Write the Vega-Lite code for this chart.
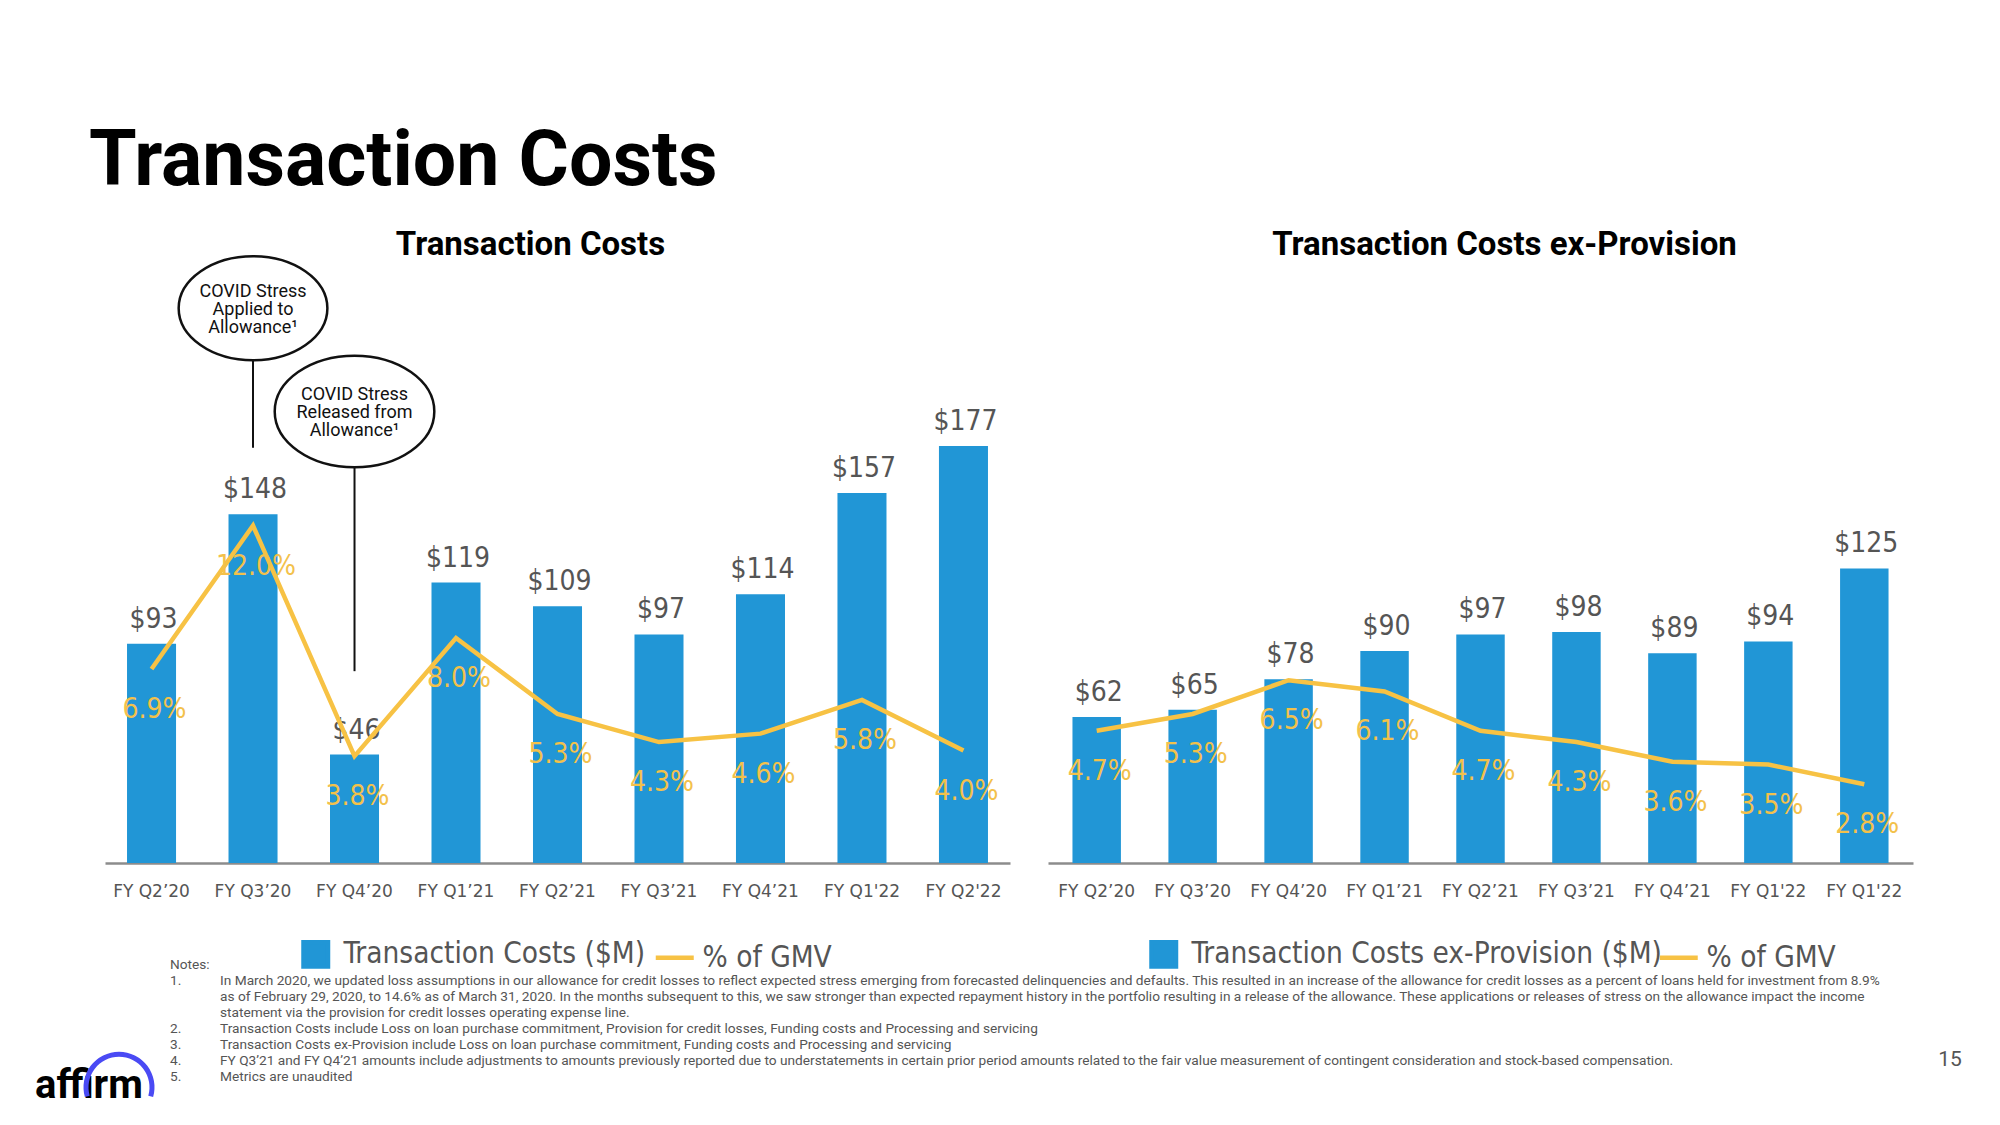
{
  "$schema": "https://vega.github.io/schema/vega-lite/v6.json",
  "background": "white",
  "padding": {"left": 35, "top": 123, "right": 20, "bottom": 10},
  "title": {"text": "Transaction Costs", "font": "Roboto", "fontSize": 77, "fontWeight": "bold", "color": "#000000", "anchor": "start", "frame": "bounds", "dx": 54, "baseline": "alphabetic", "offset": -32.8},
  "config": {"view": {"stroke": null}},
  "datasets": {
    "tc": [
      {"q": "FY Q2’20", "value": 93, "pct": 0.069},
      {"q": "FY Q3’20", "value": 148, "pct": 0.120},
      {"q": "FY Q4’20", "value": 46, "pct": 0.038},
      {"q": "FY Q1’21", "value": 119, "pct": 0.080},
      {"q": "FY Q2’21", "value": 109, "pct": 0.053},
      {"q": "FY Q3’21", "value": 97, "pct": 0.043},
      {"q": "FY Q4’21", "value": 114, "pct": 0.046},
      {"q": "FY Q1'22", "value": 157, "pct": 0.058},
      {"q": "FY Q2'22", "value": 177, "pct": 0.040}
    ],
    "tcx": [
      {"q": "FY Q2’20", "value": 62, "pct": 0.047},
      {"q": "FY Q3’20", "value": 65, "pct": 0.053},
      {"q": "FY Q4’20", "value": 78, "pct": 0.065},
      {"q": "FY Q1’21", "value": 90, "pct": 0.061},
      {"q": "FY Q2’21", "value": 97, "pct": 0.047},
      {"q": "FY Q3’21", "value": 98, "pct": 0.043},
      {"q": "FY Q4’21", "value": 89, "pct": 0.036},
      {"q": "FY Q1'22", "value": 94, "pct": 0.035},
      {"q": "FY Q1'22\u200b", "value": 125, "pct": 0.028}
    ],
    "annot": [
      {"id": "a", "q": "FY Q3’20", "y": 235.4, "label": "COVID Stress\nApplied to\nAllowance¹"},
      {"id": "b", "q": "FY Q4’20", "y": 191.6, "label": "COVID Stress\nReleased from\nAllowance¹"}
    ],
    "callout": [
      {"q": "FY Q3’20", "top": 213.5, "bottom": 176.2},
      {"q": "FY Q4’20", "top": 167.9, "bottom": 81.4}
    ],
    "notes": [
      {"row": 0, "col": 1.3, "txt": "Notes:"},
      {"row": 1, "col": 1.3, "txt": "1."},
      {"row": 1, "col": 2.3, "txt": "In March 2020, we updated loss assumptions in our allowance for credit losses to reflect expected stress emerging from forecasted delinquencies and defaults. This resulted in an increase of the allowance for credit losses as a percent of loans held for investment from 8.9%"},
      {"row": 2, "col": 2.3, "txt": "as of February 29, 2020, to 14.6% as of March 31, 2020. In the months subsequent to this, we saw stronger than expected repayment history in the portfolio resulting in a release of the allowance. These applications or releases of stress on the allowance impact the income"},
      {"row": 3, "col": 2.3, "txt": "statement via the provision for credit losses operating expense line."},
      {"row": 4, "col": 1.3, "txt": "2."},
      {"row": 4, "col": 2.3, "txt": "Transaction Costs include Loss on loan purchase commitment, Provision for credit losses, Funding costs and Processing and servicing"},
      {"row": 5, "col": 1.3, "txt": "3."},
      {"row": 5, "col": 2.3, "txt": "Transaction Costs ex-Provision include Loss on loan purchase commitment, Funding costs and Processing and servicing"},
      {"row": 6, "col": 1.3, "txt": "4."},
      {"row": 6, "col": 2.3, "txt": "FY Q3’21 and FY Q4’21 amounts include adjustments to amounts previously reported due to understatements in certain prior period amounts related to the fair value measurement of contingent consideration and stock-based compensation."},
      {"row": 7, "col": 1.3, "txt": "5."},
      {"row": 7, "col": 2.3, "txt": "Metrics are unaudited"}
    ],
    "brand": [
      {"kind": "logo", "col": -1.4, "row": 8.3, "txt": "affirm"},
      {"kind": "arc", "col": 0.28, "row": 7.64, "txt": ""},
      {"kind": "page", "col": 36.9, "row": 5.93, "txt": "15"}
    ]
  },
  "bounds": "flush",
  "spacing": 710,
  "vconcat": [
    {
      "spacing": 38,
      "resolve": {"scale": {"color": "independent"}, "legend": {"color": "independent"}},
      "hconcat": [
        {
          "width": 905,
          "height": 608,
          "title": {"text": "Transaction Costs", "font": "Roboto", "fontSize": 33, "fontWeight": "bold", "color": "#000000", "baseline": "alphabetic", "offset": -37.2, "frame": "group", "anchor": "middle", "dx": -27},
          "encoding": {
            "x": {"field": "q", "type": "nominal", "sort": null,
              "scale": {"domain": ["FY Q2’20", "FY Q3’20", "FY Q4’20", "FY Q1’21", "FY Q2’21", "FY Q3’21", "FY Q4’21", "FY Q1'22", "FY Q2'22"], "paddingInner": 0.517, "paddingOuter": 0.217},
              "axis": {"title": null, "labelAngle": 0, "ticks": false, "tickSize": 0, "labelPadding": 20, "labelFont": "DejaVu Sans", "labelFontSize": 17, "labelColor": "#555555", "domainColor": "#8c8c8c", "domainWidth": 2.5, "labelOverlap": false, "labelLimit": 1000}}
          },
          "resolve": {"scale": {"y": "independent"}},
          "layer": [
            {
              "layer": [
                {
                  "data": {"name": "tc"},
                  "mark": {"type": "bar"},
                  "encoding": {
                    "y": {"field": "value", "type": "quantitative", "scale": {"domain": [0, 258], "nice": false}, "axis": null},
                    "color": {"datum": "Transaction Costs ($M)",
                      "scale": {"domain": ["Transaction Costs ($M)", "% of GMV"], "range": ["#2196d6", "#f7c244"]},
                      "legend": {"orient": "none", "legendX": 196, "legendY": 680, "direction": "horizontal", "title": null, "symbolSize": 1444, "symbolStrokeWidth": 4.5, "labelFont": "DejaVu Sans Condensed, DejaVu Sans", "labelFontSize": 29.5, "labelColor": "#555555", "labelLimit": 1000, "labelOffset": 13, "columnPadding": 0, "padding": 0,
                        "encode": {
                          "symbols": {"update": {
                            "y": {"value": 19},
                            "shape": {"signal": "datum.value === '% of GMV' ? 'stroke' : 'square'"},
                            "size": {"signal": "datum.value === '% of GMV' ? 1444 : 600"},
                            "fill": {"signal": "datum.value === '% of GMV' ? 'transparent' : '#2196d6'"},
                            "stroke": {"signal": "datum.value === '% of GMV' ? '#f7c244' : 'transparent'"},
                            "strokeWidth": {"value": 4.5},
                            "opacity": {"value": 1}}},
                          "labels": {"update": {"y": {"value": 19}, "baseline": {"value": "middle"}}}}}}
                  }
                },
                {
                  "data": {"name": "tc"},
                  "mark": {"type": "text", "font": "DejaVu Sans Condensed, DejaVu Sans", "fontSize": 28, "color": "#555555", "align": "center", "baseline": "alphabetic", "dy": -16, "dx": 2},
                  "encoding": {
                    "y": {"field": "value", "type": "quantitative", "scale": {"domain": [0, 258], "nice": false}, "axis": null},
                    "text": {"field": "value", "format": "$.0f"}
                  }
                },
                {
                  "data": {"name": "callout"},
                  "mark": {"type": "rule", "color": "#111111", "strokeWidth": 2},
                  "encoding": {
                    "y": {"field": "top", "type": "quantitative", "scale": {"domain": [0, 258], "nice": false}, "axis": null},
                    "y2": {"field": "bottom"}
                  }
                },
                {
                  "data": {"name": "annot"},
                  "transform": [{"filter": "datum.id === 'a'"}],
                  "mark": {"type": "point", "shape": "M -1.43 0 A 1.43 1 0 1 1 1.43 0 A 1.43 1 0 1 1 -1.43 0 Z", "filled": false, "stroke": "#111111", "strokeWidth": 2.5, "size": 10816, "opacity": 1},
                  "encoding": {
                    "y": {"field": "y", "type": "quantitative", "scale": {"domain": [0, 258], "nice": false}, "axis": null}
                  }
                },
                {
                  "data": {"name": "annot"},
                  "transform": [{"filter": "datum.id === 'b'"}],
                  "mark": {"type": "point", "shape": "M -1.43 0 A 1.43 1 0 1 1 1.43 0 A 1.43 1 0 1 1 -1.43 0 Z", "filled": false, "stroke": "#111111", "strokeWidth": 2.5, "size": 12455, "opacity": 1},
                  "encoding": {
                    "y": {"field": "y", "type": "quantitative", "scale": {"domain": [0, 258], "nice": false}, "axis": null}
                  }
                },
                {
                  "data": {"name": "annot"},
                  "mark": {"type": "text", "font": "Roboto", "fontSize": 18, "color": "#111111", "align": "center", "baseline": "middle", "lineBreak": "\n", "lineHeight": 18, "dy": -16},
                  "encoding": {
                    "y": {"field": "y", "type": "quantitative", "scale": {"domain": [0, 258], "nice": false}, "axis": null},
                    "text": {"field": "label"}
                  }
                }
              ]
            },
            {
              "data": {"name": "tc"},
              "layer": [
                {
                  "mark": {"type": "line", "strokeWidth": 4.5},
                  "encoding": {
                    "y": {"field": "pct", "type": "quantitative", "scale": {"domain": [0, 0.2162], "nice": false}, "axis": null},
                    "color": {"datum": "% of GMV"}
                  }
                },
                {
                  "mark": {"type": "text", "font": "DejaVu Sans Condensed, DejaVu Sans", "fontSize": 28, "color": "#f3c14b", "align": "center", "baseline": "alphabetic", "dy": 49, "dx": 3},
                  "encoding": {
                    "y": {"field": "pct", "type": "quantitative", "scale": {"domain": [0, 0.2162], "nice": false}, "axis": null},
                    "text": {"field": "pct", "format": ".1%"}
                  }
                }
              ]
            }
          ]
        },
        {
          "width": 865,
          "height": 608,
          "title": {"text": "Transaction Costs ex-Provision", "font": "Roboto", "fontSize": 33, "fontWeight": "bold", "color": "#000000", "baseline": "alphabetic", "offset": -33.4, "frame": "group", "anchor": "middle", "dx": 24},
          "data": {"name": "tcx"},
          "encoding": {
            "x": {"field": "q", "type": "nominal", "sort": null,
              "scale": {"domain": ["FY Q2’20", "FY Q3’20", "FY Q4’20", "FY Q1’21", "FY Q2’21", "FY Q3’21", "FY Q4’21", "FY Q1'22", "FY Q1'22\u200b"], "paddingInner": 0.495, "paddingOuter": 0.255},
              "axis": {"title": null, "labelAngle": 0, "ticks": false, "tickSize": 0, "labelPadding": 20, "labelFont": "DejaVu Sans", "labelFontSize": 17, "labelColor": "#555555", "domainColor": "#8c8c8c", "domainWidth": 2.5, "labelOverlap": false, "labelLimit": 1000}}
          },
          "resolve": {"scale": {"y": "independent"}},
          "layer": [
            {
              "layer": [
                {
                  "mark": {"type": "bar"},
                  "encoding": {
                    "y": {"field": "value", "type": "quantitative", "scale": {"domain": [0, 258], "nice": false}, "axis": null},
                    "color": {"datum": "Transaction Costs ex-Provision ($M)",
                      "scale": {"domain": ["Transaction Costs ex-Provision ($M)", "% of GMV"], "range": ["#2196d6", "#f7c244"]},
                      "legend": {"orient": "none", "legendX": 101, "legendY": 680, "direction": "horizontal", "title": null, "symbolSize": 1444, "symbolStrokeWidth": 4.5, "labelFont": "DejaVu Sans Condensed, DejaVu Sans", "labelFontSize": 29.5, "labelColor": "#555555", "labelLimit": 1000, "labelOffset": 13, "columnPadding": -12, "padding": 0,
                        "encode": {
                          "symbols": {"update": {
                            "y": {"value": 19},
                            "shape": {"signal": "datum.value === '% of GMV' ? 'stroke' : 'square'"},
                            "size": {"signal": "datum.value === '% of GMV' ? 1444 : 600"},
                            "fill": {"signal": "datum.value === '% of GMV' ? 'transparent' : '#2196d6'"},
                            "stroke": {"signal": "datum.value === '% of GMV' ? '#f7c244' : 'transparent'"},
                            "strokeWidth": {"value": 4.5},
                            "opacity": {"value": 1}}},
                          "labels": {"update": {"y": {"value": 19}, "baseline": {"value": "middle"}}}}}}
                  }
                },
                {
                  "mark": {"type": "text", "font": "DejaVu Sans Condensed, DejaVu Sans", "fontSize": 28, "color": "#555555", "align": "center", "baseline": "alphabetic", "dy": -16, "dx": 2},
                  "encoding": {
                    "y": {"field": "value", "type": "quantitative", "scale": {"domain": [0, 258], "nice": false}, "axis": null},
                    "text": {"field": "value", "format": "$.0f"}
                  }
                }
              ]
            },
            {
              "layer": [
                {
                  "mark": {"type": "line", "strokeWidth": 4.5},
                  "encoding": {
                    "y": {"field": "pct", "type": "quantitative", "scale": {"domain": [0, 0.2162], "nice": false}, "axis": null},
                    "color": {"datum": "% of GMV"}
                  }
                },
                {
                  "mark": {"type": "text", "font": "DejaVu Sans Condensed, DejaVu Sans", "fontSize": 28, "color": "#f3c14b", "align": "center", "baseline": "alphabetic", "dy": 49, "dx": 3},
                  "encoding": {
                    "y": {"field": "pct", "type": "quantitative", "scale": {"domain": [0, 0.2162], "nice": false}, "axis": null},
                    "text": {"field": "pct", "format": ".1%"}
                  }
                }
              ]
            }
          ]
        }
      ]
    },
    {
      "width": 1800,
      "height": 112,
      "layer": [
        {
          "data": {"name": "notes"},
          "mark": {"type": "text", "align": "left", "baseline": "middle", "font": "Roboto", "fontSize": 13.7, "color": "#555555"},
          "encoding": {
            "x": {"field": "col", "type": "quantitative", "scale": {"domain": [0, 36], "nice": false, "zero": false}, "axis": null},
            "y": {"field": "row", "type": "quantitative", "scale": {"domain": [0, 7], "reverse": true, "nice": false, "zero": false}, "axis": null},
            "text": {"field": "txt"}
          }
        },
        {
          "data": {"name": "brand"},
          "transform": [{"filter": "datum.kind === 'logo'"}],
          "mark": {"type": "text", "align": "left", "baseline": "alphabetic", "font": "Roboto", "fontSize": 40, "fontWeight": "bold", "color": "#000000"},
          "encoding": {
            "x": {"field": "col", "type": "quantitative", "scale": {"domain": [0, 36], "nice": false, "zero": false}, "axis": null},
            "y": {"field": "row", "type": "quantitative", "scale": {"domain": [0, 7], "reverse": true, "nice": false, "zero": false}, "axis": null},
            "text": {"field": "txt"}
          }
        },
        {
          "data": {"name": "brand"},
          "transform": [{"filter": "datum.kind === 'arc'"}],
          "mark": {"type": "arc", "radius": 35.5, "radius2": 30.5, "theta": -1.85, "theta2": 1.85, "color": "#4a4af4"},
          "encoding": {
            "x": {"field": "col", "type": "quantitative", "scale": {"domain": [0, 36], "nice": false, "zero": false}, "axis": null},
            "y": {"field": "row", "type": "quantitative", "scale": {"domain": [0, 7], "reverse": true, "nice": false, "zero": false}, "axis": null}
          }
        },
        {
          "data": {"name": "brand"},
          "transform": [{"filter": "datum.kind === 'page'"}],
          "mark": {"type": "text", "align": "center", "baseline": "middle", "font": "Roboto", "fontSize": 21, "color": "#555555"},
          "encoding": {
            "x": {"field": "col", "type": "quantitative", "scale": {"domain": [0, 36], "nice": false, "zero": false}, "axis": null},
            "y": {"field": "row", "type": "quantitative", "scale": {"domain": [0, 7], "reverse": true, "nice": false, "zero": false}, "axis": null},
            "text": {"field": "txt"}
          }
        }
      ]
    }
  ]
}
